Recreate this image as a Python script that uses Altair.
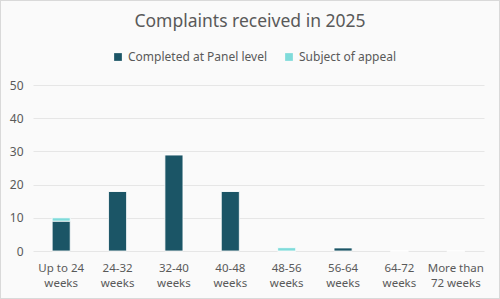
import altair as alt
import pandas as pd

categories = ["Up to 24 weeks", "24-32 weeks", "32-40 weeks", "40-48 weeks",
              "48-56 weeks", "56-64 weeks", "64-72 weeks", "More than 72 weeks"]
label_lines = ["Up to 24|weeks", "24-32|weeks", "32-40|weeks", "40-48|weeks",
               "48-56|weeks", "56-64|weeks", "64-72|weeks", "More than|72 weeks"]
completed = [9, 18, 29, 18, 0, 1, 0, 0]
appeal = [1, 0, 0, 0, 1, 0, 0, 0]
series = ["Completed at Panel level", "Subject of appeal"]
colors = ["#1b5566", "#7fdbda"]
title_text = "Complaints received in 2025"

rows = []
for c, a, b in zip(categories, completed, appeal):
    rows.append({"cat": c, "series": series[0], "value": a, "ord": 0})
    rows.append({"cat": c, "series": series[1], "value": b, "ord": 1})
df = pd.DataFrame(rows)

label_map = "{" + ",".join(f"'{c}': '{l}'" for c, l in zip(categories, label_lines)) + "}"

FONT = "Noto Sans"
TXT = "#595959"

bars = alt.Chart(df).mark_bar(stroke="white", strokeWidth=0.8).encode(
    x=alt.X("cat:N", sort=categories, title=None,
            scale=alt.Scale(paddingInner=0.68, paddingOuter=0.34),
            axis=alt.Axis(labelAngle=0, domain=False, ticks=False, labelPadding=11,
                          labelExpr=f"split({label_map}[datum.label], '|')",
                          labelLineHeight=15, labelFontSize=11.5, labelColor=TXT,
                          labelFont=FONT, grid=False, labelOverlap=False)),
    y=alt.Y("value:Q", stack="zero", title=None,
            scale=alt.Scale(domain=[0, 50]),
            axis=alt.Axis(values=[0, 10, 20, 30, 40, 50], domain=False, ticks=False,
                          labelPadding=10, labelFontSize=12, labelColor=TXT,
                          labelFont=FONT, gridColor="#e6e6e6", gridWidth=1)),
    color=alt.Color("series:N", sort=series,
                    scale=alt.Scale(domain=series, range=colors),
                    legend=alt.Legend(title=None, orient="none", direction="horizontal",
                                      legendX=79, legendY=-34, symbolType="square",
                                      symbolSize=60, symbolStrokeWidth=0,
                                      labelFontSize=12, labelColor=TXT, labelFont=FONT,
                                      columnPadding=15, symbolOffset=0, labelOffset=4)),
    order=alt.Order("ord:Q"),
)

border = alt.Chart(df).mark_rect(fill="transparent", stroke="#d9d9d9", strokeWidth=1, clip=False).encode(
    x=alt.value(-32.5), x2=alt.value(466.5), y=alt.value(-84.5), y2=alt.value(213.5)
)

title = alt.Chart(pd.DataFrame({"t": [title_text]})).mark_text(
    fontSize=17.5, font=FONT, color=TXT, align="center", baseline="middle", clip=False
).encode(text="t:N", x=alt.value(217), y=alt.value(-63))

chart = alt.layer(border, bars, title).properties(
    width=451, height=166,
    padding={"left": 33, "top": 85, "right": 16, "bottom": 48},
    autosize=alt.AutoSizeParams(type="none"),
    background="#fafafa",
).configure_view(stroke=None)

chart.save("out.html", embed_options={"renderer": "svg", "actions": False})
